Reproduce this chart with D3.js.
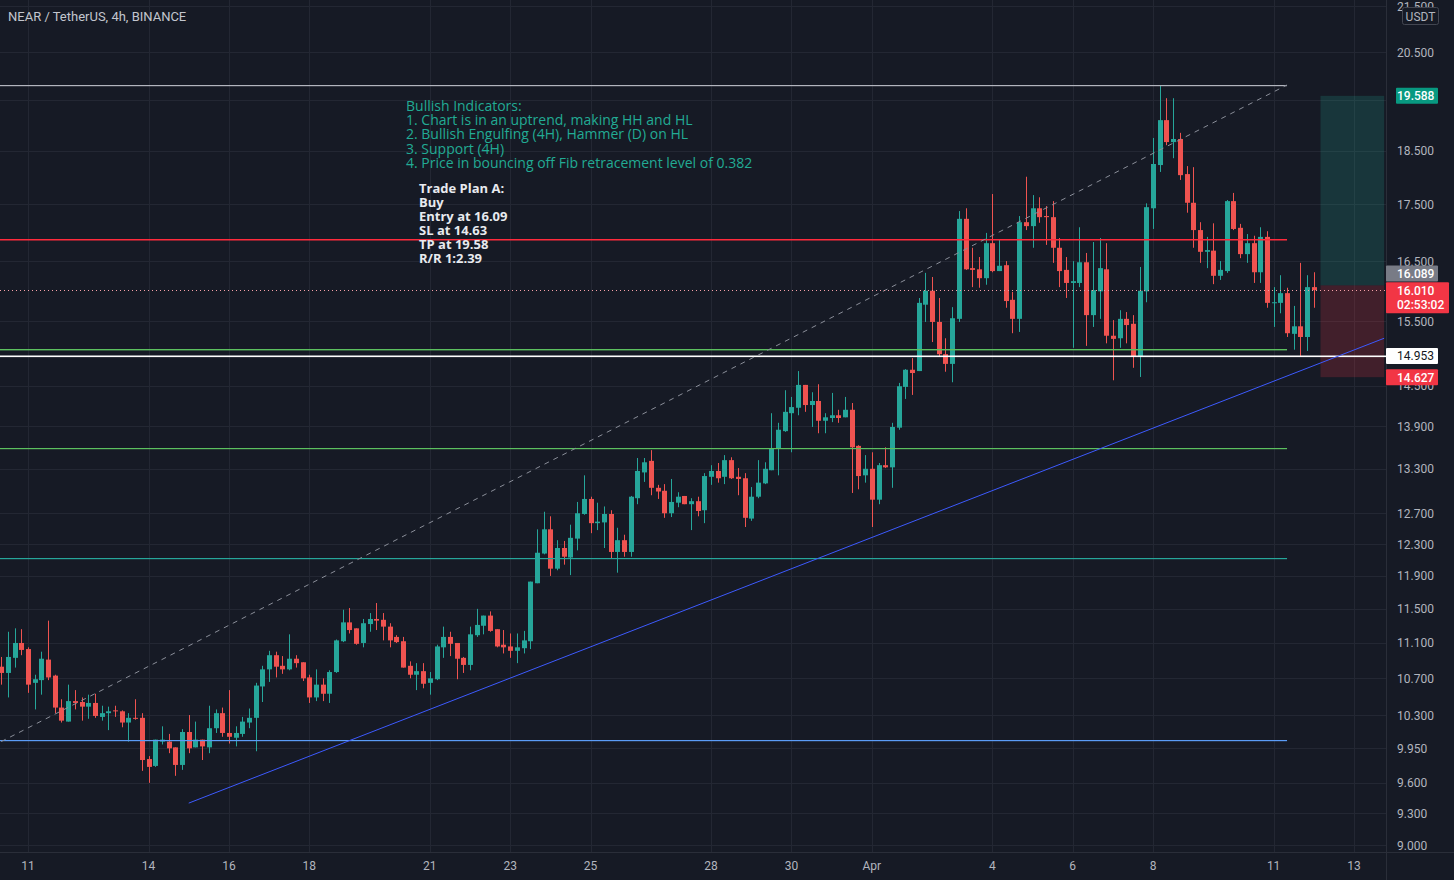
<!DOCTYPE html>
<html><head><meta charset="utf-8">
<script src="https://cdn.jsdelivr.net/npm/d3@7"></script>
<style>html,body{margin:0;padding:0;background:#161a25;overflow:hidden}</style>
</head><body><svg id="c" width="1454" height="880"></svg>
<script>
// ---------------- DATA ----------------
const startTime = "2022-03-10T08:00:00Z"; // first visible 4h candle
const opens = [10.83,10.76,10.93,11.10,
11.03,10.65,10.68,10.91,10.73,10.38,10.23,10.45,10.44,10.39,
10.43,10.28,10.32,10.35,10.34,10.22,10.27,10.27,9.84,9.77,
10.02,10.02,9.96,9.78,10.12,9.96,10.04,9.96,10.16,10.32,
10.11,10.06,10.10,10.22,10.27,10.61,10.80,10.96,10.84,10.80,
10.92,10.88,10.71,10.49,10.63,10.53,10.77,11.12,11.34,11.27,
11.10,11.32,11.38,11.37,11.29,11.17,11.12,10.84,10.74,10.78,
10.65,10.69,11.05,11.17,11.10,10.93,10.85,11.19,11.30,11.42,
11.26,11.08,11.06,11.01,11.04,11.12,11.81,12.18,12.49,11.99,
12.25,12.13,12.37,12.69,12.89,12.57,12.58,12.69,12.20,12.35,
12.20,12.90,13.25,13.41,13.04,13.00,12.70,12.84,12.93,12.82,
12.86,12.74,13.19,13.27,13.19,13.42,13.19,13.17,12.63,12.92,
13.10,13.28,13.59,13.83,14.09,14.17,14.51,14.21,14.27,13.98,
14.02,14.06,14.03,14.14,13.62,13.21,13.30,12.88,13.35,13.32,
13.88,14.48,14.74,14.72,15.77,16.00,15.49,14.98,14.83,15.54,
17.24,16.38,16.36,16.21,16.81,16.33,16.43,15.85,15.54,17.18,
17.11,17.43,17.29,17.27,16.73,16.35,16.13,16.13,16.48,15.60,
15.99,16.36,15.27,15.23,15.54,15.46,14.94,15.99,17.43,18.23,
19.10,18.67,18.73,18.06,17.53,17.04,16.66,16.68,16.25,16.33,
17.56,17.08,16.62,16.81,16.31,16.92,15.80,15.80,15.96,15.30,
15.42,15.25,16.06];
const highs = [10.94,11.23,11.27,11.26,
11.05,10.74,11.00,11.36,10.74,10.47,10.63,10.57,10.49,10.52,
10.53,10.40,10.39,10.40,10.35,10.32,10.47,10.32,9.87,10.04,
10.18,10.10,9.96,10.15,10.30,10.23,10.04,10.40,10.36,10.38,
10.57,10.18,10.28,10.37,10.65,10.84,11.01,11.00,10.95,11.20,
10.96,10.88,10.74,10.80,10.70,10.79,11.14,11.49,11.51,11.27,
11.38,11.45,11.57,11.45,11.33,11.19,11.17,10.89,10.87,10.87,
10.77,11.08,11.29,11.23,11.10,10.94,11.29,11.50,11.42,11.47,
11.26,11.25,11.21,11.21,11.24,11.83,12.49,12.72,12.66,12.35,
12.34,12.55,12.85,13.21,12.92,12.84,12.79,12.74,12.51,12.42,
12.93,13.45,13.45,13.56,13.08,13.09,13.16,12.98,12.93,12.90,
12.92,13.24,13.35,13.38,13.49,13.46,13.31,13.24,13.05,13.42,
13.39,14.09,13.95,14.43,14.33,14.72,14.51,14.40,14.52,14.09,
14.39,14.14,14.33,14.24,13.63,13.49,13.53,13.38,13.60,13.95,
14.54,14.75,14.92,15.88,16.30,16.23,15.88,15.23,15.73,17.38,
17.43,16.73,16.57,16.99,17.69,16.87,16.50,15.98,17.29,18.01,
17.67,17.63,17.47,17.56,16.90,16.57,16.50,17.09,16.64,16.83,
16.90,16.81,15.52,15.68,15.65,15.60,16.40,17.52,18.75,19.79,
19.54,19.54,18.85,18.21,18.19,17.18,16.92,17.16,16.50,17.58,
17.71,17.15,16.97,16.94,17.09,17.02,16.06,16.26,16.05,15.75,
16.47,16.26,16.31];
const lows = [10.63,10.49,10.82,10.96,
10.54,10.36,10.52,10.68,10.32,10.22,10.23,10.36,10.24,10.26,
10.27,10.24,10.14,10.28,10.17,10.02,10.25,9.72,9.60,9.76,
9.99,9.90,9.67,9.73,9.90,9.96,9.83,9.90,10.11,10.07,
10.00,9.97,10.07,10.16,9.92,10.44,10.66,10.71,10.75,10.79,
10.82,10.67,10.43,10.45,10.45,10.43,10.76,11.11,11.21,11.08,
11.05,11.23,11.25,11.13,11.05,11.10,10.82,10.70,10.57,10.59,
10.52,10.68,10.93,10.95,10.69,10.76,10.79,11.17,11.20,11.23,
11.05,10.98,10.93,10.87,10.98,11.03,11.81,12.17,11.90,11.97,
12.04,11.91,12.22,12.68,12.44,12.48,12.25,12.12,11.94,12.14,
12.14,12.82,13.12,12.94,12.89,12.64,12.65,12.78,12.82,12.48,
12.66,12.57,13.08,13.11,13.09,13.16,12.94,12.52,12.60,12.90,
13.09,13.28,13.21,13.82,13.53,14.06,14.11,13.89,13.80,13.80,
13.96,13.95,14.03,12.97,13.02,13.11,12.52,12.82,13.31,13.04,
13.85,14.30,14.36,14.72,15.49,15.17,14.94,14.71,14.55,15.49,
16.35,16.06,16.05,16.10,16.31,16.33,15.72,15.31,15.33,17.04,
16.73,17.17,16.78,16.47,16.06,15.88,15.08,16.06,15.11,15.41,
15.54,15.15,14.58,15.08,15.15,14.77,14.63,15.81,17.06,18.10,
18.61,18.36,17.95,17.35,16.73,16.47,16.38,16.11,16.18,16.30,
17.04,16.55,16.47,16.13,16.13,15.72,15.41,15.63,15.25,15.05,
14.94,15.03,15.72];
const closes = [10.76,10.94,11.10,11.02,
10.63,10.69,10.92,10.71,10.38,10.24,10.45,10.43,10.39,10.43,
10.29,10.32,10.34,10.34,10.22,10.27,10.26,9.83,9.76,10.04,
10.04,9.95,9.78,10.12,9.95,10.04,9.97,10.16,10.32,10.11,
10.07,10.11,10.23,10.27,10.62,10.80,10.96,10.83,10.80,10.92,
10.87,10.70,10.49,10.63,10.53,10.77,11.13,11.34,11.25,11.09,
11.33,11.38,11.36,11.29,11.13,11.11,10.82,10.74,10.78,10.64,
10.70,11.06,11.17,11.09,10.92,10.85,11.20,11.31,11.42,11.24,
11.06,11.05,11.01,11.05,11.13,11.83,12.19,12.49,11.99,12.25,
12.14,12.38,12.70,12.89,12.57,12.59,12.69,12.20,12.35,12.20,
12.92,13.27,13.39,13.04,12.99,12.70,12.85,12.92,12.82,12.86,
12.73,13.20,13.27,13.17,13.42,13.17,13.16,12.64,12.92,13.11,
13.30,13.59,13.85,14.11,14.18,14.51,14.21,14.27,13.98,14.03,
14.06,14.02,14.14,13.60,13.20,13.30,12.88,13.35,13.32,13.89,
14.49,14.74,14.69,15.80,16.00,15.49,14.98,14.83,15.55,17.24,
16.36,16.35,16.21,16.81,16.33,16.42,15.83,15.54,17.18,17.11,
17.43,17.27,17.27,16.73,16.33,16.13,16.16,16.48,15.60,16.01,
16.38,15.27,15.22,15.54,15.44,14.94,16.00,17.45,18.25,19.10,
18.67,18.73,18.04,17.53,17.04,16.66,16.69,16.25,16.35,17.56,
17.06,16.62,16.81,16.31,16.92,15.80,15.81,15.96,15.31,15.42,
15.25,16.06,16.01];

const priceTicks = [9.0,9.3,9.6,9.95,10.3,10.7,11.1,11.5,11.9,12.3,12.7,13.3,13.9,14.5,15.5,16.5,17.5,18.5,19.5,20.5,21.5];
const dateTicks = ["2022-03-11","2022-03-14","2022-03-16","2022-03-18","2022-03-21","2022-03-23","2022-03-25","2022-03-28","2022-03-30","2022-04-01","2022-04-04","2022-04-06","2022-04-08","2022-04-11","2022-04-13"];
const dateTickLabels = ["11","14","16","18","21","23","25","28","30","Apr","4","6","8","11","13"];

// horizontal drawing levels (price) and their end time
const levelPrices = [19.81, 16.88, 15.06, 13.59, 12.12, 10.04];
const levelColors = ["#b2b5be", "#ff2a3c", "#5cc05f", "#5cc05f", "#26a69a", "#5b9cf6"];
const levelWidths = [1.2, 1.5, 1.4, 1.2, 1.2, 1.2];
const levelEnd = "2022-04-11T08:00:00Z";
const supportPrice = 14.953;
// trend line (two anchor points) and fib dashed line
const trendTimes = ["2022-03-15T00:00:00Z", "2022-04-13T18:00:00Z"];
const trendPrices = [9.40, 15.23];
const fibTimes = ["2022-03-10T08:00:00Z", "2022-04-11T08:00:00Z"];
const fibPrices = [10.02, 19.81];
// long position tool
const posTimes = ["2022-04-12T04:00:00Z", "2022-04-13T18:00:00Z"];
const posEntry = 16.089, posTarget = 19.588, posStop = 14.627;
const lastPrice = 16.010, countdown = "02:53:02";

const titleText = "NEAR / TetherUS, 4h, BINANCE";
const bullishLines = ["Bullish Indicators:",
 "1. Chart is in an uptrend, making HH and HL",
 "2. Bullish Engulfing (4H), Hammer (D) on HL",
 "3. Support (4H)",
 "4. Price in bouncing off Fib retracement level of 0.382"];
const planLines = ["Trade Plan A:", "Buy", "Entry at 16.09", "SL at 14.63", "TP at 19.58", "R/R 1:2.39"];

// ---------------- CHART ----------------
const W = 1454, H = 880, plotR = 1386, plotB = 852;
const BG = "#161a25", GRID = "#232733", TXT = "#b2b5be";
const UP = "#26a69a", DOWN = "#ef5350";
const FONT = "Roboto, 'Noto Sans', sans-serif";
const svg = d3.select("#c");
svg.append("rect").attr("width", W).attr("height", H).attr("fill", BG);

const x = d3.scaleUtc()
  .domain([new Date("2022-03-11T00:00:00Z"), new Date("2022-04-13T00:00:00Z")])
  .range([28, 1354]);
const y = d3.scaleLog().domain([9, 20.5]).range([845, 52]);
const px = v => Math.round(v) + 0.5;

svg.append("clipPath").attr("id", "plot").append("rect")
  .attr("x", 0).attr("y", 0).attr("width", plotR).attr("height", plotB);

const plot = svg.append("g").attr("clip-path", "url(#plot)");

// grid
plot.append("g").selectAll("line").data(priceTicks).join("line")
  .attr("x1", 0).attr("x2", plotR)
  .attr("y1", d => px(y(d))).attr("y2", d => px(y(d)))
  .style("stroke", GRID).attr("stroke-width", 1);
plot.append("g").selectAll("line").data(dateTicks).join("line")
  .attr("y1", 0).attr("y2", plotB)
  .attr("x1", d => px(x(new Date(d + "T00:00:00Z")))).attr("x2", d => px(x(new Date(d + "T00:00:00Z"))))
  .style("stroke", GRID).attr("stroke-width", 1);

// position tool
const pX0 = x(new Date(posTimes[0])), pX1 = x(new Date(posTimes[1]));
plot.append("rect").attr("x", pX0).attr("width", pX1 - pX0)
  .attr("y", y(posTarget)).attr("height", y(posEntry) - y(posTarget))
  .attr("fill", "rgba(34,171,148,0.2)");
plot.append("rect").attr("x", pX0).attr("width", pX1 - pX0)
  .attr("y", y(posEntry)).attr("height", y(posStop) - y(posEntry))
  .attr("fill", "rgba(242,54,69,0.2)");

// candles
const t0 = new Date(startTime);
const candles = opens.map((o, k) => ({
  t: new Date(+t0 + k * 4 * 3600e3), o, h: highs[k], l: lows[k], c: closes[k]
}));
const cg = plot.append("g");
cg.selectAll("line").data(candles).join("line")
  .attr("x1", d => px(x(d.t))).attr("x2", d => px(x(d.t)))
  .attr("y1", d => y(d.h)).attr("y2", d => y(d.l))
  .style("stroke", d => d.c >= d.o ? UP : DOWN).attr("stroke-width", 1);
cg.selectAll("rect").data(candles).join("rect")
  .attr("x", d => Math.round(x(d.t)) - 2)
  .attr("width", 5)
  .attr("y", d => y(Math.max(d.o, d.c)))
  .attr("height", d => Math.max(1, y(Math.min(d.o, d.c)) - y(Math.max(d.o, d.c))))
  .style("fill", d => d.c >= d.o ? UP : DOWN);

// horizontal levels (drawn as thin filled rects)
const lvEndX = x(new Date(levelEnd));
plot.append("g").selectAll("rect").data(levelPrices).join("rect")
  .attr("x", 0).attr("width", lvEndX)
  .attr("y", d => Math.round(y(d))).attr("height", (d, i) => levelWidths[i])
  .style("fill", (d, i) => levelColors[i]);
plot.append("rect").attr("x", 0).attr("width", plotR)
  .attr("y", Math.round(y(supportPrice)) - 0.5).attr("height", 1.6)
  .style("fill", "#ffffff");

// fib dashed line
plot.append("line")
  .attr("x1", x(new Date(fibTimes[0]))).attr("y1", y(fibPrices[0]))
  .attr("x2", x(new Date(fibTimes[1]))).attr("y2", y(fibPrices[1]))
  .style("stroke", "#8a8e99").attr("stroke-width", 1).attr("stroke-dasharray", "5,5");

// trend line
plot.append("line")
  .attr("x1", x(new Date(trendTimes[0]))).attr("y1", y(trendPrices[0]))
  .attr("x2", x(new Date(trendTimes[1]))).attr("y2", y(trendPrices[1]))
  .style("stroke", "#3d5afe").attr("stroke-width", 1);

// last price dotted line
plot.append("line").attr("x1", 0).attr("x2", plotR)
  .attr("y1", px(y(lastPrice))).attr("y2", px(y(lastPrice)))
  .style("stroke", "#f7a1a8").attr("stroke-width", 1).attr("stroke-dasharray", "1,3");

// annotations
const ann = svg.append("g").attr("font-family", "'Open Sans', sans-serif");
ann.selectAll("text.b").data(bullishLines).join("text").attr("class", "b")
  .attr("x", 406).attr("y", (d, i) => 111 + i * 14.2).attr("font-size", 14)
  .attr("font-weight", 500).style("fill", "#22ab94").text(d => d);
ann.selectAll("text.p").data(planLines).join("text").attr("class", "p")
  .attr("x", 419).attr("y", (d, i) => 193 + i * 14).attr("font-size", 13)
  .style("fill", "#e8eaef").attr("font-weight", "bold").text(d => d);

// title
svg.append("text").attr("x", 8).attr("y", 21).style("fill", "#c3c6ce")
  .attr("font-family", FONT).attr("font-size", 13).text(titleText);

// axes separators
svg.append("line").attr("x1", plotR + 0.5).attr("x2", plotR + 0.5).attr("y1", 0).attr("y2", H)
  .style("stroke", "#2a2e39");
svg.append("line").attr("x1", 0).attr("x2", W).attr("y1", plotB + 0.5).attr("y2", plotB + 0.5)
  .style("stroke", "#2a2e39");

// price axis labels (19.500 sits fully under the target tag, as in the reference)
const fmt = d3.format(".3f");
const tagPrices = [posTarget];
svg.append("g").selectAll("text")
  .data(priceTicks.filter(v => !tagPrices.some(p => Math.abs(y(p) - y(v)) < 8)))
  .join("text")
  .attr("x", 1397).attr("y", d => y(d) + 4.5)
  .style("fill", TXT).attr("font-family", FONT).attr("font-size", 12).text(d => fmt(d));

// time axis labels
svg.append("g").selectAll("text").data(dateTicks).join("text")
  .attr("x", d => x(new Date(d + "T00:00:00Z"))).attr("y", 870)
  .attr("text-anchor", "middle").style("fill", TXT)
  .attr("font-family", FONT).attr("font-size", 12).text((d, i) => dateTickLabels[i]);

// USDT box
svg.append("rect").attr("x", 1402.5).attr("y", 7.5).attr("width", 36).attr("height", 17).attr("rx", 2)
  .style("fill", BG).style("stroke", "#434651");
svg.append("text").attr("x", 1420.5).attr("y", 20.5).attr("text-anchor", "middle")
  .style("fill", TXT).attr("font-family", FONT).attr("font-size", 12).text("USDT");

// price tags on axis
function tag(price, x0, w, h, top, bg, fg, lines, bold) {
  svg.append("rect").attr("x", x0).attr("y", top).attr("width", w).attr("height", h).style("fill", bg).attr("rx", 1);
  lines.forEach((s, i) => svg.append("text").attr("x", 1397).attr("y", top + 12.5 + i * 14)
    .style("fill", fg).attr("font-family", FONT).attr("font-size", 12)
    .attr("font-weight", bold ? 500 : 400).text(s));
}
tag(posTarget, 1396, 42, 16, y(posTarget) - 8, "#089981", "#ffffff", [fmt(posTarget)], true);
tag(posEntry, 1386, 52, 16, y(posEntry) - 20, "#787b86", "#ffffff", [fmt(posEntry)], true);
tag(lastPrice, 1386, 63, 31, y(lastPrice) - 8, "#f23645", "#ffffff", [fmt(lastPrice), countdown], true);
tag(supportPrice, 1386, 52, 16, y(supportPrice) - 8, "#ffffff", "#131722", [fmt(supportPrice)], false);
tag(posStop, 1386, 52, 16, y(posStop) - 8, "#f23645", "#ffffff", [fmt(posStop)], true);
</script></body></html>
